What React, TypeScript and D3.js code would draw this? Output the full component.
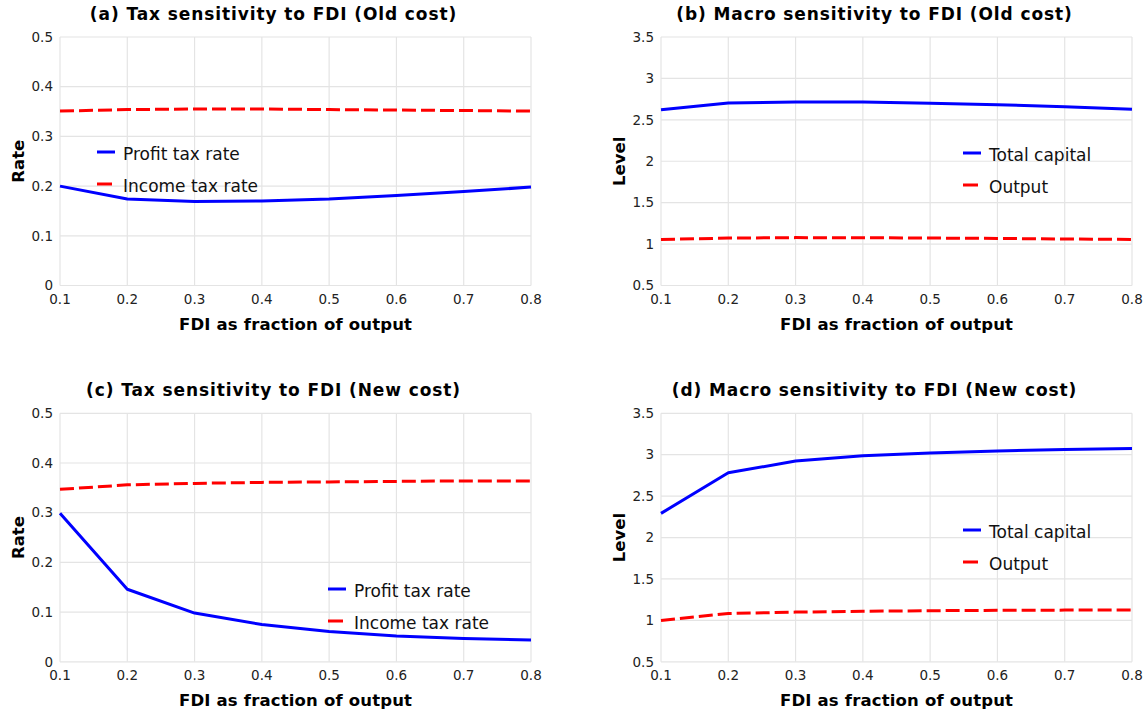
import React from "react";
import * as d3 from "d3";
import { useEffect, useRef } from "react";

// data
const fdiShare = [0.1, 0.2, 0.3, 0.4, 0.5, 0.6, 0.7, 0.8];

const profitTaxOld = [0.2, 0.174, 0.169, 0.17, 0.174, 0.181, 0.189, 0.198];
const incomeTaxOld = [0.351, 0.354, 0.355, 0.355, 0.354, 0.353, 0.352, 0.351];

const capitalOld = [2.622, 2.703, 2.716, 2.714, 2.7, 2.683, 2.659, 2.627];
const outputOld = [1.056, 1.072, 1.078, 1.077, 1.073, 1.068, 1.062, 1.056];

const profitTaxNew = [0.299, 0.146, 0.098, 0.075, 0.061, 0.052, 0.047, 0.044];
const incomeTaxNew = [0.347, 0.356, 0.359, 0.361, 0.362, 0.363, 0.364, 0.364];

const capitalNew = [2.292, 2.782, 2.923, 2.988, 3.022, 3.045, 3.063, 3.075];
const outputNew = [1.0, 1.083, 1.1, 1.11, 1.117, 1.121, 1.124, 1.126];

const xTicks = [0.1, 0.2, 0.3, 0.4, 0.5, 0.6, 0.7, 0.8];
const rateTicks = [0, 0.1, 0.2, 0.3, 0.4, 0.5];
const levelTicks = [0.5, 1, 1.5, 2, 2.5, 3, 3.5];

const width = 1148;
const height = 714;
const plotW = 471;
const plotH = 248.5;
const font = "DejaVu Sans, Verdana, sans-serif";
const gridColor = "#e4e4e4";

const panels = [
  {
    title: "(a) Tax sensitivity to FDI (Old cost)",
    left: 60,
    top: 37,
    yLabel: "Rate",
    yDomain: [0, 0.5],
    yTicks: rateTicks,
    series: [
      { name: "Profit tax rate", values: profitTaxOld, color: "#0000ff", dash: null },
      { name: "Income tax rate", values: incomeTaxOld, color: "#ff0000", dash: "14,5" },
    ],
    legend: { x: 97, y: 152 },
  },
  {
    title: "(b) Macro sensitivity to FDI (Old cost)",
    left: 661,
    top: 37,
    yLabel: "Level",
    yDomain: [0.5, 3.5],
    yTicks: levelTicks,
    series: [
      { name: "Total capital", values: capitalOld, color: "#0000ff", dash: null },
      { name: "Output", values: outputOld, color: "#ff0000", dash: "14,5" },
    ],
    legend: { x: 963, y: 153 },
  },
  {
    title: "(c) Tax sensitivity to FDI (New cost)",
    left: 60,
    top: 413.3,
    yLabel: "Rate",
    yDomain: [0, 0.5],
    yTicks: rateTicks,
    series: [
      { name: "Profit tax rate", values: profitTaxNew, color: "#0000ff", dash: null },
      { name: "Income tax rate", values: incomeTaxNew, color: "#ff0000", dash: "14,5" },
    ],
    legend: { x: 328, y: 589 },
  },
  {
    title: "(d) Macro sensitivity to FDI (New cost)",
    left: 661,
    top: 413.3,
    yLabel: "Level",
    yDomain: [0.5, 3.5],
    yTicks: levelTicks,
    series: [
      { name: "Total capital", values: capitalNew, color: "#0000ff", dash: null },
      { name: "Output", values: outputNew, color: "#ff0000", dash: "14,5" },
    ],
    legend: { x: 963, y: 530 },
  },
];

const App = () => {
  const ref = useRef<SVGSVGElement>(null);

  useEffect(() => {
    const svg = d3.select(ref.current);
    svg.selectAll("*").remove();
    svg.append("rect").attr("width", width).attr("height", height).attr("fill", "#fff");

    panels.forEach((p) => {
      const x = d3.scaleLinear().domain([0.1, 0.8]).range([p.left, p.left + plotW]);
      const y = d3
        .scaleLinear()
        .domain(p.yDomain)
        .range([p.top + plotH, p.top]);
      const g = svg.append("g");

      // grid
      g.selectAll(".gx")
        .data(xTicks)
        .join("line")
        .attr("x1", (d) => x(d))
        .attr("x2", (d) => x(d))
        .attr("y1", p.top)
        .attr("y2", p.top + plotH)
        .attr("stroke", gridColor)
        .attr("stroke-width", 1.2);
      g.selectAll(".gy")
        .data(p.yTicks)
        .join("line")
        .attr("x1", p.left)
        .attr("x2", p.left + plotW)
        .attr("y1", (d) => y(d))
        .attr("y2", (d) => y(d))
        .attr("stroke", gridColor)
        .attr("stroke-width", 1.2);

      // tick labels
      g.selectAll(".tx")
        .data(xTicks)
        .join("text")
        .attr("x", (d) => x(d))
        .attr("y", p.top + plotH + 18)
        .attr("text-anchor", "middle")
        .attr("font-family", font)
        .attr("font-size", 13.5)
        .attr("fill", "#222")
        .text((d) => d3.format(".1f")(d));
      g.selectAll(".ty")
        .data(p.yTicks)
        .join("text")
        .attr("x", p.left - 7)
        .attr("y", (d) => y(d))
        .attr("dy", "0.35em")
        .attr("text-anchor", "end")
        .attr("font-family", font)
        .attr("font-size", 13.5)
        .attr("fill", "#222")
        .text((d) => String(d));

      // titles (centred over the whole subplot incl. y label)
      g.append("text")
        .attr("x", p.left + plotW / 2 - 22)
        .attr("y", p.top - 17)
        .attr("text-anchor", "middle")
        .attr("font-family", font)
        .attr("font-weight", "bold")
        .attr("font-size", 17)
        .attr("letter-spacing", 0.9)
        .text(p.title);
      g.append("text")
        .attr("x", p.left + plotW / 2)
        .attr("y", p.top + plotH + 44)
        .attr("text-anchor", "middle")
        .attr("font-family", font)
        .attr("font-weight", "bold")
        .attr("font-size", 16.5)
        .attr("textLength", 233)
        .attr("lengthAdjust", "spacing")
        .text("FDI as fraction of output");
      g.append("text")
        .attr("transform", `translate(${p.left - 36},${p.top + plotH / 2}) rotate(-90)`)
        .attr("text-anchor", "middle")
        .attr("font-family", font)
        .attr("font-weight", "bold")
        .attr("font-size", 16.5)
        .text(p.yLabel);

      // lines
      const line = d3
        .line<number>()
        .x((_, i) => x(fdiShare[i]))
        .y((d) => y(d));
      p.series.forEach((s) => {
        g.append("path")
          .attr("d", line(s.values))
          .attr("fill", "none")
          .attr("stroke", s.color)
          .attr("stroke-width", 3)
          .attr("stroke-dasharray", s.dash)
          .attr("stroke-linejoin", "round");
      });

      // legend
      p.series.forEach((s, i) => {
        const ly = p.legend.y + i * 32;
        g.append("line")
          .attr("x1", p.legend.x)
          .attr("x2", p.legend.x + 18)
          .attr("y1", ly)
          .attr("y2", ly)
          .attr("stroke", s.color)
          .attr("stroke-width", 3)
          .attr("stroke-dasharray", s.dash ? "15,5" : null);
        g.append("text")
          .attr("x", p.legend.x + 26)
          .attr("y", ly + 2)
          .attr("dy", "0.35em")
          .attr("font-family", font)
          .attr("font-size", 17)
          .attr("fill", "#111")
          .text(s.name);
      });
    });
  }, []);

  return (
    <svg
      ref={ref}
      width={width}
      height={height}
      style={{ position: "absolute", left: 0, top: 0 }}
    />
  );
};

export default App;
